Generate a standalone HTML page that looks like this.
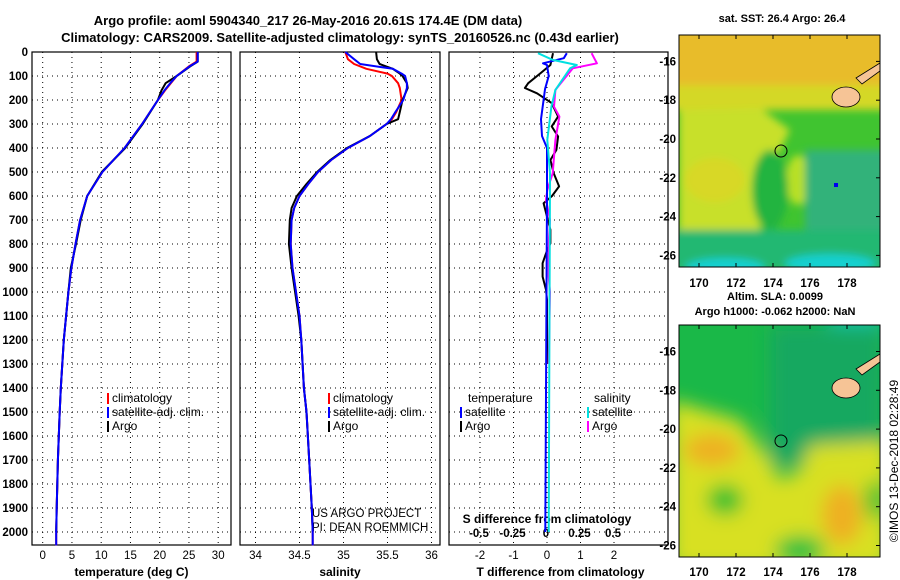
<!DOCTYPE html>
<html><head><meta charset="utf-8"><style>
html,body{margin:0;padding:0;background:#fff;}
svg{display:block;font-family:"Liberation Sans",sans-serif;}
.b{font-weight:bold;}
</style></head><body>
<svg id="c" width="900" height="580" viewBox="0 0 900 580" xmlns="http://www.w3.org/2000/svg">
<defs>
<filter id="blur" x="-20%" y="-20%" width="140%" height="140%"><feGaussianBlur stdDeviation="9"/></filter>
<filter id="blur2" x="-20%" y="-20%" width="140%" height="140%"><feGaussianBlur stdDeviation="4"/></filter>
<clipPath id="cm1"><rect x="679" y="35" width="201" height="232"/></clipPath>
<clipPath id="cm2"><rect x="679" y="325" width="201" height="232"/></clipPath>
</defs>
<text class="b" x="308" y="25" font-size="13" text-anchor="middle">Argo profile: aoml 5904340_217 26-May-2016 20.61S 174.4E (DM data)</text>
<text class="b" x="340" y="42" font-size="13" text-anchor="middle">Climatology: CARS2009. Satellite-adjusted climatology: synTS_20160526.nc (0.43d earlier)</text>

<!-- SST map -->
<g clip-path="url(#cm1)">
<rect x="679" y="35" width="201" height="232" fill="#40c430"/>
<g filter="url(#blur2)">
<rect x="670" y="25" width="225" height="70" fill="#e8bc2c"/>
<rect x="670" y="85" width="225" height="25" fill="#d4d828"/>
<path d="M679,110 L760,108 L790,130 L770,170 L760,230 L679,235Z" fill="#c8e02c"/>
<ellipse cx="715" cy="180" rx="30" ry="22" fill="#d8d828"/>
<ellipse cx="798" cy="180" rx="12" ry="25" fill="#b8e028"/>
<rect x="805" y="150" width="90" height="110" fill="#30b27a"/>
<ellipse cx="770" cy="190" rx="18" ry="40" fill="#24b440"/>
<rect x="670" y="230" width="225" height="40" fill="#24b872"/>
<ellipse cx="725" cy="268" rx="40" ry="10" fill="#14d0d0"/>
<ellipse cx="830" cy="264" rx="45" ry="10" fill="#14d0d0"/>
</g>
<ellipse cx="846" cy="97" rx="14" ry="10" fill="#f6c496" stroke="#000" stroke-width="0.8"/>
<path d="M856,78 L880,63 L880,71 L862,84Z" fill="#f6c496" stroke="#000" stroke-width="0.8"/>
<circle cx="781" cy="151" r="6" fill="none" stroke="#000"/>
<rect x="834" y="183" width="4" height="4" fill="#0000ee"/>
</g>
<rect x="679" y="35" width="201" height="232" fill="none" stroke="#000"/>

<!-- SLA map -->
<g clip-path="url(#cm2)">
<rect x="679" y="325" width="201" height="232" fill="#1ab848"/>
<g filter="url(#blur)">
<ellipse cx="855" cy="328" rx="30" ry="18" fill="#10c8b0"/>
<rect x="770" y="325" width="113" height="140" fill="#16a860"/>
<path d="M670,400 L740,420 L770,460 L780,480 L800,470 L810,445 L890,440 L890,570 L670,570Z" fill="#d8e020"/>
<ellipse cx="712" cy="450" rx="28" ry="16" fill="#eeb020"/>
<ellipse cx="842" cy="515" rx="20" ry="30" fill="#eeb020"/>
<ellipse cx="725" cy="500" rx="18" ry="15" fill="#20c030"/>
<ellipse cx="800" cy="550" rx="25" ry="14" fill="#10c040"/>
<ellipse cx="875" cy="500" rx="10" ry="20" fill="#30c030"/>
</g>
<ellipse cx="846" cy="388" rx="14" ry="10" fill="#f6c496" stroke="#000" stroke-width="0.8"/>
<path d="M856,369 L880,354 L880,362 L862,375Z" fill="#f6c496" stroke="#000" stroke-width="0.8"/>
<circle cx="781" cy="441" r="6" fill="none" stroke="#000"/>
</g>
<rect x="679" y="325" width="201" height="232" fill="none" stroke="#000"/>
<text class="b" x="782" y="22" font-size="11" text-anchor="middle">sat. SST: 26.4 Argo: 26.4</text>
<text class="b" x="775" y="300" font-size="11" text-anchor="middle">Altim. SLA: 0.0099</text>
<text class="b" x="775" y="315" font-size="11" text-anchor="middle">Argo h1000: -0.062 h2000: NaN</text>
<text x="894" y="461" font-size="12" text-anchor="middle" dominant-baseline="central" transform="rotate(-90 894 461)">©IMOS 13-Dec-2018 02:28:49</text>
<text x="312" y="517" font-size="11.5">US ARGO PROJECT</text>
<text x="312" y="531" font-size="11.5">PI: DEAN ROEMMICH</text>
<g id="plots"></g>
</svg>
<script>
// ---- data ----
const depthTick = [0,100,200,300,400,500,600,700,800,900,1000,1100,1200,1300,1400,1500,1600,1700,1800,1900,2000];
const tempTicks = [0,5,10,15,20,25,30];
const salTicks = [34,34.5,35,35.5,36];
const tdTicks = [-2,-1,0,1,2];
const sdTicks = [-0.5,-0.25,0,0.25,0.5];
const sdTickLabels = ["-0.5","-0.25","0","0.25","0.5"];
const lonTicks = [170,172,174,176,178];
const latTicks = [-16,-18,-20,-22,-24,-26];

const depthTemp = [0,40,60,100,130,160,200,300,400,500,600,700,800,900,1000,1100,1200,1400,1500,1700,1900,2000];
const tempArgo = [26.5,26.5,25.2,22.9,21.0,20.3,19.7,17.1,14.1,10.1,7.6,6.5,5.7,4.8,4.4,4.0,3.6,3.1,2.9,2.6,2.4,2.3];
const depthTempClim = [0,40,60,100,130,160,200,300,400,500,600,700,800,900,1000,1100,1200,1400,1500,1700,1900,2000,2056];
const tempClim = [26.3,26.3,25.0,22.9,21.9,20.9,19.7,17.0,14.0,10.2,7.6,6.4,5.6,4.9,4.4,4.0,3.6,3.1,2.9,2.6,2.4,2.3,2.3];
const tempSat = [26.5,26.5,25.1,22.9,21.8,20.8,19.7,17.0,14.0,10.2,7.6,6.4,5.6,4.9,4.4,4.0,3.6,3.1,2.9,2.6,2.4,2.3,2.3];

const depthSal = [0,30,50,70,90,100,130,150,200,250,280,300,350,400,450,500,550,600,650,700,800,900,1000,1100,1200,1400,1500,1700,1900,2000];
const salArgo = [35.37,35.38,35.41,35.56,35.64,35.67,35.72,35.73,35.67,35.64,35.62,35.49,35.3,35.04,34.85,34.70,34.58,34.47,34.41,34.39,34.38,34.41,34.45,34.49,34.52,34.55,34.58,34.61,34.64,34.65];
const depthSalClim = [0,30,50,70,90,100,130,150,200,250,280,300,350,400,450,500,550,600,650,700,800,900,1000,1100,1200,1400,1500,1700,1900,2000,2056];
const salClim = [35.02,35.05,35.12,35.26,35.50,35.55,35.62,35.64,35.66,35.60,35.55,35.49,35.30,35.05,34.86,34.71,34.60,34.50,34.44,34.41,34.40,34.42,34.46,34.50,34.52,34.55,34.58,34.61,34.64,34.65,34.65];
const salSat = [35.02,35.12,35.19,35.56,35.66,35.70,35.72,35.72,35.68,35.59,35.54,35.49,35.30,35.05,34.86,34.71,34.60,34.50,34.44,34.41,34.40,34.42,34.46,34.50,34.52,34.55,34.58,34.61,34.64,34.65,34.65];

const depthTdArgo = [5,54,89,130,150,172,213,269,310,352,408,450,505,560,600,630,686,741,797,839,880,936,991,1032,1100,1300];
const tdArgo = [0.18,0.1,-0.2,-0.56,-0.66,-0.3,0.14,0.33,0.14,0.33,0.28,0.1,0.2,0.36,0.15,-0.1,0,0.1,0.1,-0.03,-0.13,-0.13,-0.03,0,0,0];
const depthTdSat = [5,26,47,54,100,155,280,350,400,600,2000];
const tdSat = [0.59,0.5,-0.12,0,0.05,-0.06,-0.18,-0.15,0,0,-0.05];
const depthSdSat = [5,33,54,68,158,228,366,505,2000];
const sdSat = [-0.06,0.05,0.23,0.18,0.07,0.04,0.01,0.03,0.02];
const depthSdArgo = [5,47,68,158,228,269,366,505,575,616,700,797,936,1000,1300];
const sdArgo = [0.34,0.38,0.2,0.07,0.06,0.1,0.07,0.05,0.01,0,0.03,0.02,0.02,0.03,0.02];

// ---- axes ----
const TOP=52, BOT=545;
const yD = d => TOP + d*0.24;
const xT = t => 42.7 + t*5.85;
const xS = s => 255.5 + (s-34)*88;
const xTd = v => 547 + v*33.5;
const xSd = v => 546 + v*134;
const xLon = l => 699 + (l-170)*18.5;
const yLat1 = l => 61.4 + (-16-l)*19.4;
const yLat2 = l => 351.5 + (-16-l)*19.4;

const NS="http://www.w3.org/2000/svg";
const root=document.getElementById('plots');
function mk(tag,attrs,parent){const e=document.createElementNS(NS,tag);for(const k in attrs)e.setAttribute(k,attrs[k]);(parent||root).appendChild(e);return e;}
function txt(x,y,s,size,anchor,parent){const e=mk('text',{x:x,y:y,'font-size':size,'text-anchor':anchor||'middle','font-weight':'bold'},parent);e.textContent=s;return e;}

const panels=[{x0:32,x1:231,ticks:tempTicks,fx:xT,name:'temperature-panel',title:'temperature (deg C)'},
{x0:240,x1:440,ticks:salTicks,fx:xS,name:'salinity-panel',title:'salinity'},
{x0:449,x1:668,ticks:tdTicks,fx:xTd,name:'difference-panel',title:'T difference from climatology'}];
panels.forEach(p=>{
 const g=mk('g',{});
 
 
 depthTick.forEach(d=>mk('line',{x1:p.x0,x2:p.x1,y1:yD(d),y2:yD(d),stroke:'#000','stroke-width':1,'stroke-dasharray':'1 4'},g));
 p.ticks.forEach(t=>{
  mk('line',{x1:p.fx(t),x2:p.fx(t),y1:TOP,y2:BOT,stroke:'#000','stroke-width':1,'stroke-dasharray':'1 4'},g);
  const lab=txt(p.fx(t),559,String(t),11.5,'middle',g);
  lab.setAttribute('font-weight','normal');
 });
 mk('rect',{x:p.x0,y:TOP,width:p.x1-p.x0,height:BOT-TOP,fill:'none',stroke:'#000','stroke-width':1.2},g);
 const t=txt((p.x0+p.x1)/2+(p.name==='difference-panel'?2:0),576,p.title,12,'middle',g);
 
 
});
// y ticks
depthTick.forEach(d=>{const e=txt(28,yD(d)+4,String(d),11.5,'end');
 
 });
// S diff ticks
sdTicks.forEach((v,i)=>txt(xSd(v),537,sdTickLabels[i],11.5,'middle'));
const sdt=txt(547,523,'S difference from climatology',12,'middle');



function line(ds,vs,fx,color,name,w){
 const pts=ds.map((d,i)=>fx(vs[i]).toFixed(1)+','+yD(d).toFixed(1)).join(' ');
 const e=mk('polyline',{points:pts,fill:'none',stroke:color,'stroke-width':w||2,'stroke-linejoin':'round'});
 
 
}
line(depthTempClim,tempClim,xT,'#ff0000','temp-climatology-line');
line(depthTemp,tempArgo,xT,'#000000','temp-argo-line');
line(depthTempClim,tempSat,xT,'#0000ff','temp-satellite-line');
line(depthSalClim,salClim,xS,'#ff0000','sal-climatology-line');
line(depthSal,salArgo,xS,'#000000','sal-argo-line');
line(depthSalClim,salSat,xS,'#0000ff','sal-satellite-line');
line(depthTdArgo,tdArgo,xTd,'#000000','tdiff-argo-line');
line(depthSdArgo,sdArgo,xSd,'#ff00ff','sdiff-argo-line');
line(depthTdSat,tdSat,xTd,'#0000ff','tdiff-satellite-line');
line(depthSdSat,sdSat,xSd,'#00e0e0','sdiff-satellite-line');

// legends
function legend(x,y,color,label){
 const g=mk('g',{});
 
 
 mk('rect',{x:x,y:y-9,width:2,height:11,fill:color},g);
 const t=txt(x+5,y,label,12,'start',g);t.setAttribute('font-weight','normal');
}
[[107,'#ff0000','climatology'],[107,'#0000ff','satellite-adj. clim.'],[107,'#000','Argo']].forEach((l,i)=>legend(l[0],402+i*14,l[1],l[2]));
[[328,'#ff0000','climatology'],[328,'#0000ff','satellite-adj. clim.'],[328,'#000','Argo']].forEach((l,i)=>legend(l[0],402+i*14,l[1],l[2]));
const lt1=txt(468,402,'temperature',12,'start');lt1.setAttribute('font-weight','normal');
const lt2=txt(594,402,'salinity',12,'start');lt2.setAttribute('font-weight','normal');
legend(460,416,'#0000ff','satellite');legend(460,430,'#000','Argo');
legend(587,416,'#00e0e0','satellite');legend(587,430,'#ff00ff','Argo');

// map ticks
lonTicks.forEach(l=>{txt(xLon(l),287,String(l),11.5,'middle');txt(xLon(l),576,String(l),11.5,'middle');
 mk('line',{x1:xLon(l),x2:xLon(l),y1:35,y2:39,stroke:'#000'});mk('line',{x1:xLon(l),x2:xLon(l),y1:263,y2:267,stroke:'#000'});
 mk('line',{x1:xLon(l),x2:xLon(l),y1:325,y2:329,stroke:'#000'});mk('line',{x1:xLon(l),x2:xLon(l),y1:553,y2:557,stroke:'#000'});});
latTicks.forEach(l=>{txt(676,yLat1(l)+4,String(l),11.5,'end');txt(676,yLat2(l)+4,String(l),11.5,'end');
 mk('line',{x1:876,x2:880,y1:yLat1(l),y2:yLat1(l),stroke:'#000'});mk('line',{x1:876,x2:880,y1:yLat2(l),y2:yLat2(l),stroke:'#000'});});
</script>
</body></html>
